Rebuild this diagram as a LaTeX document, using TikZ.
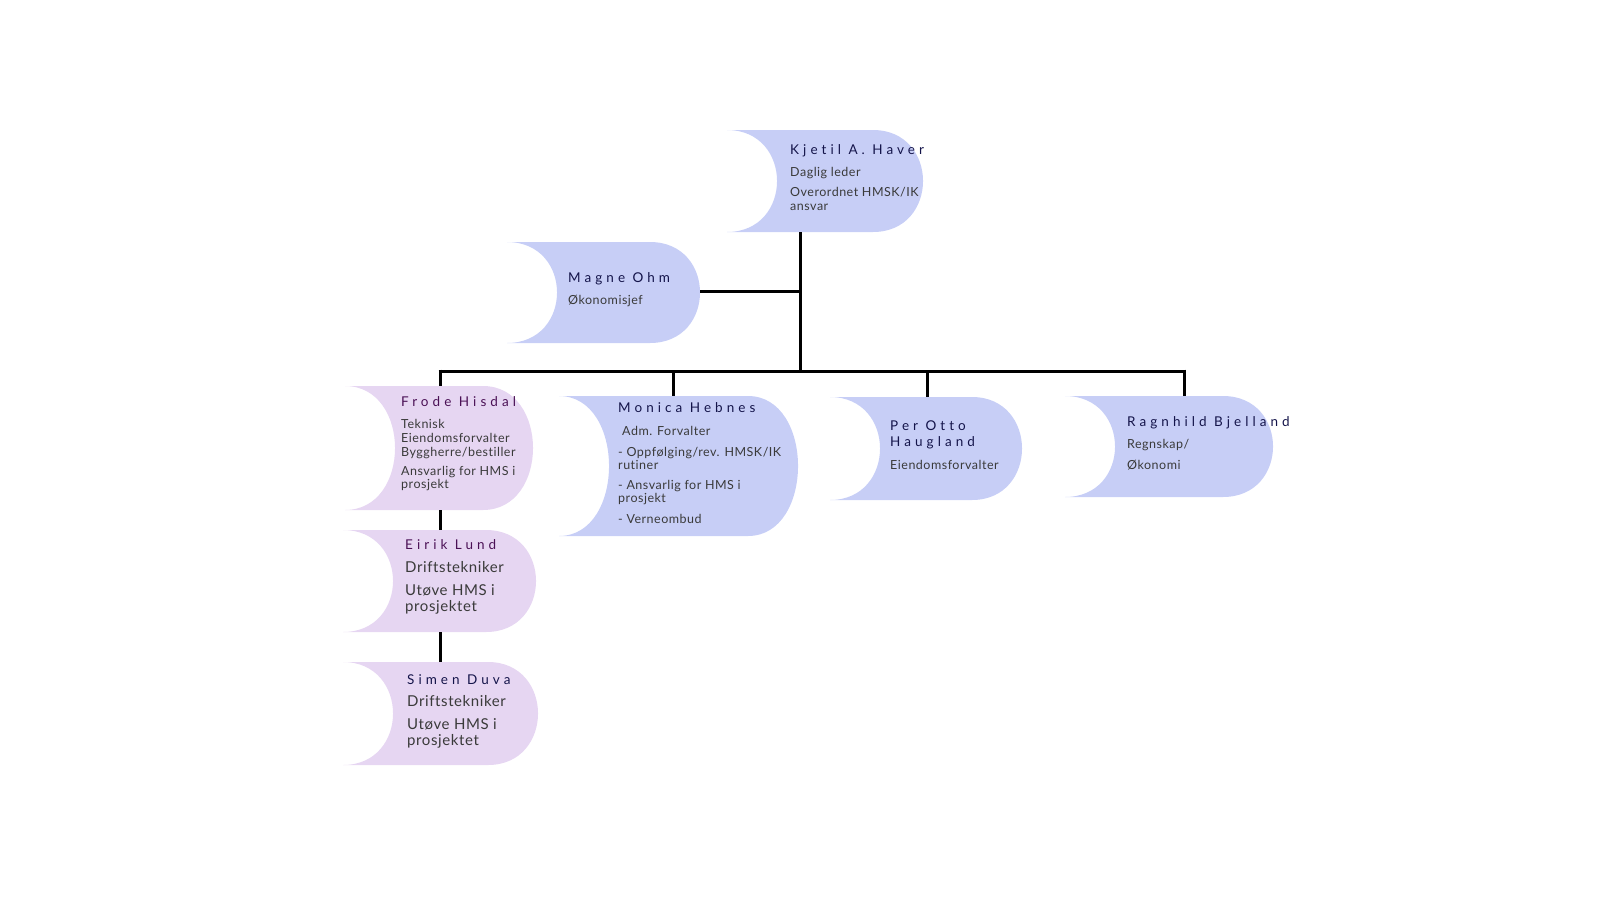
\documentclass[tikz,border=0pt]{standalone}
\usepackage{fontspec}
\setmainfont{Lato}[Ligatures=NoCommon]
\definecolor{bluefill}{HTML}{C7CEF6}
\definecolor{purplefill}{HTML}{E6D6F2}
\definecolor{navy}{HTML}{14144A}
\definecolor{plum}{HTML}{4A1055}
\definecolor{bodygray}{HTML}{3A3A3A}
\newcommand\orgshape[5]{%
  \fill[#5] (#1,-#2) -- (#3-50,-#2)
    .. controls (#3+16.7,-#2) and (#3+16.7,-#4) .. (#3-50,-#4)
    -- (#1,-#4)
    .. controls (#1+66.7,-#4) and (#1+66.7,-#2) .. (#1,-#2) -- cycle;}
\tikzset{
  txt/.style={anchor=west, inner sep=0pt, yshift=-2.5pt, text height=0.7em, text depth=0.2em, text=bodygray, font=\fontsize{12.5}{14}\selectfont\addfontfeatures{LetterSpace=4}},
  bigtxt/.style={txt, font=\fontsize{15}{17}\selectfont\addfontfeatures{LetterSpace=4}},
  nm/.style={anchor=west, inner sep=0pt, yshift=-2.5pt, text height=0.7em, text depth=0.2em, text=navy, font=\fontsize{13.5}{15}\selectfont\addfontfeatures{LetterSpace=30}},
  nmp/.style={nm, text=plum},
  link/.style={line width=3pt, line cap=butt}
}
\begin{document}
\begin{tikzpicture}[x=1pt,y=1pt]
\useasboundingbox (0,0) rectangle (1600,-900);
% shapes
\orgshape{727}{130}{923}{232}{bluefill}
\orgshape{507}{242}{700}{343}{bluefill}
\orgshape{345}{386}{533}{510}{purplefill}
\orgshape{559}{396}{798}{536}{bluefill}
\orgshape{830}{397}{1022}{500}{bluefill}
\orgshape{1065}{396}{1273}{497}{bluefill}
\orgshape{343}{530}{536}{632}{purplefill}
\orgshape{343}{662}{538}{765}{purplefill}
% anchor coordinates
\coordinate (kjetil-b) at (800,-232);
\coordinate (magne-r) at (700,-291);
\coordinate (trunk-m) at (800,-291);
\coordinate (bus-c) at (800,-371);
\coordinate (bus-l) at (440,-371);
\coordinate (bus-r) at (1184,-371);
\coordinate (bus-monica) at (673,-371);
\coordinate (bus-per) at (927,-371);
\coordinate (frode-t) at (440,-386);
\coordinate (frode-b) at (440,-510);
\coordinate (monica-t) at (673,-396);
\coordinate (per-t) at (927,-397);
\coordinate (ragnhild-t) at (1184,-396);
\coordinate (eirik-t) at (440,-530);
\coordinate (eirik-b) at (440,-632);
\coordinate (simen-t) at (440,-662);
% connectors
\draw[link] (kjetil-b) -- (bus-c);
\draw[link] (magne-r) -- (trunk-m);
\draw[link] ([xshift=-1.5pt]bus-l) -- ([xshift=1.5pt]bus-r);
\draw[link] ([yshift=1.5pt]bus-l) -- (frode-t);
\draw[link] (bus-monica) -- (monica-t);
\draw[link] (bus-per) -- (per-t);
\draw[link] ([yshift=1.5pt]bus-r) -- (ragnhild-t);
\draw[link] (frode-b) -- (eirik-t);
\draw[link] (eirik-b) -- (simen-t);
% texts
\node[nm] (k0) at (790,-149) {Kjetil A. Haver};
\node[txt] (k1) at (790,-171) {Daglig leder};
\node[txt] (k2) at (790,-191) {Overordnet HMSK/IK};
\node[txt] (k3) at (790,-205) {ansvar};
\node[nm] (m0) at (568,-277) {Magne Ohm};
\node[txt] (m1) at (568,-299) {Økonomisjef};
\node[nmp] (f0) at (401,-401) {Frode Hisdal};
\node[txt] (f1) at (401,-423) {Teknisk};
\node[txt] (f2) at (401,-437) {Eiendomsforvalter};
\node[txt] (f3) at (401,-451) {Byggherre/bestiller};
\node[txt] (f4) at (401,-470) {Ansvarlig for HMS i};
\node[txt] (f5) at (401,-483) {prosjekt};
\node[nm] (mo0) at (618,-407) {Monica Hebnes};
\node[txt] (mo1) at (622,-430) {Adm. Forvalter};
\node[txt] (mo2) at (618,-451) {- Oppfølging/rev. HMSK/IK};
\node[txt] (mo3) at (618,-464) {rutiner};
\node[txt] (mo4) at (618,-484) {- Ansvarlig for HMS i};
\node[txt] (mo5) at (618,-497) {prosjekt};
\node[txt] (mo6) at (618,-518) {- Verneombud};
\node[nm] (p0) at (890,-425) {Per Otto};
\node[nm] (p1) at (890,-441) {Haugland};
\node[txt] (p2) at (890,-464) {Eiendomsforvalter};
\node[nm] (r0) at (1127,-421) {Ragnhild Bjelland};
\node[txt] (r1) at (1127,-443) {Regnskap/};
\node[txt] (r2) at (1127,-464) {Økonomi};
\node[nmp] (e0) at (405,-544) {Eirik Lund};
\node[bigtxt] (e1) at (405,-567) {Driftstekniker};
\node[bigtxt] (e2) at (405,-590) {Utøve HMS i};
\node[bigtxt] (e3) at (405,-606) {prosjektet};
\node[nm] (s0) at (407,-679) {Simen Duva};
\node[bigtxt] (s1) at (407,-701) {Driftstekniker};
\node[bigtxt] (s2) at (407,-724) {Utøve HMS i};
\node[bigtxt] (s3) at (407,-740) {prosjektet};
\end{tikzpicture}
\end{document}
